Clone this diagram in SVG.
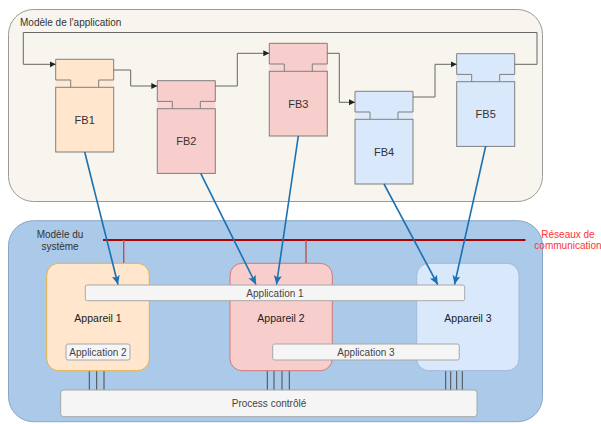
<svg xmlns="http://www.w3.org/2000/svg" width="601" height="424" viewBox="0 0 601 424">
<defs>
  <marker id="ah" markerUnits="userSpaceOnUse" markerWidth="8" markerHeight="8" refX="6" refY="3" orient="auto">
    <path d="M0,0 L6,3 L0,6 Z" fill="#222"/>
  </marker>
  <marker id="bh" markerUnits="userSpaceOnUse" markerWidth="12" markerHeight="12" refX="9" refY="4" orient="auto">
    <path d="M0,0 L9,4 L0,8 L2,4 Z" fill="#1a71b3"/>
  </marker>
  <style>
    text { font-family: "Liberation Sans", Arial, sans-serif; fill: #333; }
    .fbo { stroke: #7f7f7f; stroke-width: 1; fill: none; }
    .peach { fill: #ffe6cc; }
    .pink { fill: #f8cecc; }
    .blue { fill: #dae8fc; }
    .tab { opacity: 0.85; }
    .fbt { font-size: 11px; text-anchor: middle; }
    .conn { stroke: #666; stroke-width: 1; fill: none; }
    .barrow { stroke: #1a71b3; stroke-width: 1.6; fill: none; }
    .bar { fill: #f5f5f5; stroke: #a8a8a8; stroke-width: 1; }
    .bt { font-size: 10px; text-anchor: middle; fill: #444; }
    .at { font-size: 10.5px; text-anchor: middle; fill: #222; }
    .io { stroke: #4a4a4a; stroke-width: 1; }
  </style>
</defs>

<g id="app-model">
  <rect x="8.5" y="9.5" width="534" height="192" rx="25" fill="#f8f5ee" stroke="#9a9a9a" stroke-width="1"/>
  <text x="20" y="26" style="font-size:10px;fill:#333">Modèle de l'application</text>
</g>

<g id="sys-model">
  <rect x="8.5" y="220.7" width="534" height="201" rx="25" fill="#abc9e9" stroke="#8aa6c4" stroke-width="1"/>
  <text x="60" y="238" style="font-size:10px;text-anchor:middle">Modèle du</text>
  <text x="60" y="249.5" style="font-size:10px;text-anchor:middle">système</text>
</g>

<g id="FB1" transform="translate(55.7,59.3)">
  <path class="peach" d="M0,0 H58 V20.7 H43 V28 H15 V20.7 H0 Z"/>
  <rect class="peach tab" x="0" y="20.7" width="15" height="7.3"/>
  <rect class="peach tab" x="43" y="20.7" width="15" height="7.3"/>
  <rect class="peach" x="0" y="28" width="58" height="64.7"/>
  <path class="fbo" d="M0,20.7 V0 H58 V20.7 H43 V28 M15,28 V20.7 H0"/>
  <rect class="fbo" x="0" y="28" width="58" height="64.7"/>
  <text class="fbt" x="29" y="64.4">FB1</text>
</g>

<g id="FB2" transform="translate(157.3,80.7)">
  <path class="pink" d="M0,0 H58 V20.7 H43 V28 H15 V20.7 H0 Z"/>
  <rect class="pink tab" x="0" y="20.7" width="15" height="7.3"/>
  <rect class="pink tab" x="43" y="20.7" width="15" height="7.3"/>
  <rect class="pink" x="0" y="28" width="58" height="64.7"/>
  <path class="fbo" d="M0,20.7 V0 H58 V20.7 H43 V28 M15,28 V20.7 H0"/>
  <rect class="fbo" x="0" y="28" width="58" height="64.7"/>
  <text class="fbt" x="29" y="64.4">FB2</text>
</g>

<g id="FB3" transform="translate(269.3,43.3)">
  <path class="pink" d="M0,0 H58 V20.7 H43 V28 H15 V20.7 H0 Z"/>
  <rect class="pink tab" x="0" y="20.7" width="15" height="7.3"/>
  <rect class="pink tab" x="43" y="20.7" width="15" height="7.3"/>
  <rect class="pink" x="0" y="28" width="58" height="64.7"/>
  <path class="fbo" d="M0,20.7 V0 H58 V20.7 H43 V28 M15,28 V20.7 H0"/>
  <rect class="fbo" x="0" y="28" width="58" height="64.7"/>
  <text class="fbt" x="29" y="64.4">FB3</text>
</g>

<g id="FB4" transform="translate(355,91.3)">
  <path class="blue" d="M0,0 H58 V20.7 H43 V28 H15 V20.7 H0 Z"/>
  <rect class="blue tab" x="0" y="20.7" width="15" height="7.3"/>
  <rect class="blue tab" x="43" y="20.7" width="15" height="7.3"/>
  <rect class="blue" x="0" y="28" width="58" height="64.7"/>
  <path class="fbo" d="M0,20.7 V0 H58 V20.7 H43 V28 M15,28 V20.7 H0"/>
  <rect class="fbo" x="0" y="28" width="58" height="64.7"/>
  <text class="fbt" x="29" y="64.4">FB4</text>
</g>

<g id="FB5" transform="translate(456.7,53.7)">
  <path class="blue" d="M0,0 H58 V20.7 H43 V28 H15 V20.7 H0 Z"/>
  <rect class="blue tab" x="0" y="20.7" width="15" height="7.3"/>
  <rect class="blue tab" x="43" y="20.7" width="15" height="7.3"/>
  <rect class="blue" x="0" y="28" width="58" height="64.7"/>
  <path class="fbo" d="M0,20.7 V0 H58 V20.7 H43 V28 M15,28 V20.7 H0"/>
  <rect class="fbo" x="0" y="28" width="58" height="64.7"/>
  <text class="fbt" x="29" y="64.4">FB5</text>
</g>

<g id="network">
  <line x1="103" y1="240" x2="525.5" y2="240" stroke="#b20000" stroke-width="2"/>
  <line x1="123.7" y1="240" x2="123.7" y2="263.5" stroke="#b85450" stroke-width="1.4"/>
  <line x1="306" y1="240" x2="306" y2="263.5" stroke="#b85450" stroke-width="1.4"/>
  <text x="568" y="237.5" style="font-size:10px;text-anchor:middle;fill:#ff3333">Réseaux de</text>
  <text x="568" y="249" style="font-size:10px;text-anchor:middle;fill:#ff3333">communication</text>
</g>

<g id="io-lines">
  <line class="io" x1="89.3" y1="370.7" x2="89.3" y2="390"/>
  <line class="io" x1="96.7" y1="370.7" x2="96.7" y2="390"/>
  <line class="io" x1="104" y1="370.7" x2="104" y2="390"/>
  <line class="io" x1="267.3" y1="370.7" x2="267.3" y2="390"/>
  <line class="io" x1="274" y1="370.7" x2="274" y2="390"/>
  <line class="io" x1="282" y1="370.7" x2="282" y2="390"/>
  <line class="io" x1="289.3" y1="370.7" x2="289.3" y2="390"/>
  <line class="io" x1="445.7" y1="370.7" x2="445.7" y2="390"/>
  <line class="io" x1="450.7" y1="370.7" x2="450.7" y2="390"/>
  <line class="io" x1="456.7" y1="370.7" x2="456.7" y2="390"/>
  <line class="io" x1="462.3" y1="370.7" x2="462.3" y2="390"/>
</g>

<g id="appareil1">
  <rect x="46.7" y="263.3" width="102.6" height="107.4" rx="12" fill="#ffe6cc" stroke="#e5b24a" stroke-width="1"/>
  <text class="at" x="98" y="321.5">Appareil 1</text>
</g>
<g id="appareil2">
  <rect x="230" y="263.3" width="102.3" height="107.4" rx="12" fill="#f8cecc" stroke="#cc7a78" stroke-width="1"/>
  <text class="at" x="281" y="321.5">Appareil 2</text>
</g>
<g id="appareil3">
  <rect x="416.7" y="263.3" width="102.3" height="107.4" rx="12" fill="#dae8fc" stroke="#9fb9d9" stroke-width="1"/>
  <text class="at" x="468" y="321.5">Appareil 3</text>
</g>

<g id="application1">
  <rect class="bar" x="85.3" y="285" width="379.4" height="15.7" rx="2"/>
  <text class="bt" x="275" y="296.5">Application 1</text>
</g>
<g id="application2">
  <rect class="bar" x="66" y="344" width="64" height="16" rx="2"/>
  <text class="bt" x="98" y="355.5">Application 2</text>
</g>
<g id="application3">
  <rect class="bar" x="272.7" y="344" width="186.6" height="16" rx="2"/>
  <text class="bt" x="366" y="355.5">Application 3</text>
</g>
<g id="process">
  <rect class="bar" x="60.7" y="390" width="416.3" height="26.7" rx="3"/>
  <text class="bt" x="269" y="406.5">Process contrôlé</text>
</g>

<g id="connectors">
  <path class="conn" d="M514.7,64.3 H537 V32.5 H23.3 V64.3 H55.7" marker-end="url(#ah)"/>
  <path class="conn" d="M113.7,70 H130.7 V86 H157.3" marker-end="url(#ah)"/>
  <path class="conn" d="M215.3,86 H237.3 V53.3 H269.3" marker-end="url(#ah)"/>
  <path class="conn" d="M327.3,53.3 H339.3 V102.3 H355" marker-end="url(#ah)"/>
  <path class="conn" d="M413,97 H435 V64.3 H456.7" marker-end="url(#ah)"/>

  <path class="barrow" d="M84.7,152 L118,284.5" marker-end="url(#bh)"/>
  <path class="barrow" d="M200.7,173.3 L256,284.5" marker-end="url(#bh)"/>
  <path class="barrow" d="M298.3,136 L276.5,284.5" marker-end="url(#bh)"/>
  <path class="barrow" d="M384,184 L437.7,284.5" marker-end="url(#bh)"/>
  <path class="barrow" d="M485.7,146 L454.5,284.5" marker-end="url(#bh)"/>
</g>
</svg>
